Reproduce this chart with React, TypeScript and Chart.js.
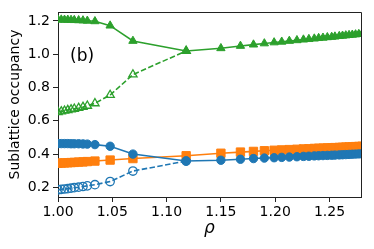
import React, { useEffect, useRef } from "react";
import { Chart, registerables } from "chart.js";

Chart.register(...registerables);

// densities (rho)
const rhoLow = [1.0, 1.003, 1.006, 1.009, 1.012, 1.015, 1.019, 1.023, 1.027, 1.034, 1.048, 1.069, 1.118];
const rhoHigh = [1.15, 1.168, 1.18, 1.19, 1.199, 1.206, 1.213, 1.22, 1.226, 1.231, 1.236, 1.24, 1.244, 1.248, 1.252, 1.255, 1.259, 1.262, 1.265, 1.268, 1.271, 1.274, 1.277, 1.28];

// green, filled triangles (solid)
const greenSolidLow = [1.208, 1.208, 1.207, 1.207, 1.206, 1.205, 1.204, 1.203, 1.201, 1.198, 1.172, 1.08, 1.02];
const greenSolidHigh = [1.036, 1.05, 1.058, 1.065, 1.071, 1.075, 1.08, 1.084, 1.088, 1.091, 1.094, 1.097, 1.099, 1.102, 1.104, 1.106, 1.109, 1.111, 1.113, 1.115, 1.117, 1.119, 1.121, 1.123];
// green, open triangles (dashed)
const greenDashed = [0.652, 0.656, 0.66, 0.664, 0.668, 0.672, 0.677, 0.683, 0.69, 0.705, 0.755, 0.878, 1.02];

// blue, filled circles (solid)
const blueSolidLow = [0.463, 0.463, 0.463, 0.463, 0.462, 0.462, 0.462, 0.461, 0.46, 0.457, 0.447, 0.4, 0.358];
const blueSolidHigh = [0.363, 0.369, 0.373, 0.376, 0.378, 0.38, 0.382, 0.384, 0.386, 0.387, 0.389, 0.39, 0.391, 0.392, 0.393, 0.394, 0.395, 0.396, 0.397, 0.398, 0.399, 0.4, 0.401, 0.402];
// blue, open circles (dashed)
const blueDashed = [0.185, 0.188, 0.19, 0.192, 0.195, 0.198, 0.201, 0.205, 0.209, 0.216, 0.235, 0.298, 0.358];

// orange squares (solid)
const orangeLow = [0.345, 0.346, 0.347, 0.348, 0.349, 0.35, 0.352, 0.353, 0.355, 0.358, 0.364, 0.373, 0.39];
const orangeHigh = [0.405, 0.412, 0.416, 0.42, 0.423, 0.425, 0.427, 0.429, 0.431, 0.432, 0.434, 0.435, 0.436, 0.437, 0.438, 0.439, 0.44, 0.441, 0.442, 0.443, 0.444, 0.445, 0.446, 0.447];

const xTicks = [1.0, 1.05, 1.1, 1.15, 1.2, 1.25];
const yTicks = [0.2, 0.4, 0.6, 0.8, 1.0, 1.2];

const GREEN = "#2ca02c";
const BLUE = "#1f77b4";
const ORANGE = "#ff7f0e";
const FONT = "'DejaVu Sans', sans-serif";

const pts = (xs: number[], ys: number[]) => xs.map((x, i) => ({ x, y: ys[i] }));

export default function App() {
  const ref = useRef<HTMLCanvasElement | null>(null);

  useEffect(() => {
    if (!ref.current) return;
    const rhoAll = [...rhoLow, ...rhoHigh];
    const framePlugin = {
      id: "frame",
      afterDraw(chart: any) {
        const { ctx, chartArea } = chart;
        const { left, top, right, bottom } = chartArea;
        ctx.save();
        ctx.strokeStyle = "#222";
        ctx.lineWidth = 1;
        ctx.beginPath();
        const t = Math.round(top) + 0.5;
        const r = Math.round(right) + 0.5;
        ctx.moveTo(Math.round(left), t);
        ctx.lineTo(r, t);
        ctx.lineTo(r, Math.round(bottom) + 1);
        ctx.stroke();
        ctx.fillStyle = "#000";
        ctx.font = `17px ${FONT}`;
        ctx.textBaseline = "middle";
        ctx.textAlign = "left";
        ctx.fillText("(b)", left + 0.04 * (right - left), top + 0.24 * (bottom - top));
        ctx.restore();
      },
    };

    const line = (
      data: { x: number; y: number }[],
      color: string,
      style: string,
      filled: boolean,
      radius: number,
      dashed: boolean
    ) => ({
      data,
      borderColor: color,
      backgroundColor: color,
      borderWidth: 1.6,
      borderDash: dashed ? [5.5, 2.4] : [],
      pointStyle: style,
      pointRadius: radius,
      pointBackgroundColor: filled ? color : "rgba(0,0,0,0)",
      pointBorderColor: color,
      pointBorderWidth: filled ? 1 : 1.3,
      tension: 0,
    });

    const chart = new Chart(ref.current, {
      type: "line",
      data: {
        datasets: [
          line(pts(rhoAll, [...blueSolidLow, ...blueSolidHigh]), BLUE, "circle", true, 4.2, false),
          line(pts(rhoLow, blueDashed), BLUE, "circle", false, 4.2, true),
          line(pts(rhoAll, [...orangeLow, ...orangeHigh]), ORANGE, "rect", true, 5.9, false),
          line(pts(rhoAll, [...greenSolidLow, ...greenSolidHigh]), GREEN, "triangle", true, 4.8, false),
          line(pts(rhoLow, greenDashed), GREEN, "triangle", false, 4.8, true),
        ] as any,
      },
      options: {
        animation: false,
        responsive: false,
        maintainAspectRatio: false,
        layout: { padding: { left: 0, top: 12, right: 13, bottom: 0 } },
        plugins: { legend: { display: false }, tooltip: { enabled: false } },
        scales: {
          x: {
            type: "linear",
            min: 1.0,
            max: 1.279,
            afterBuildTicks: (s: any) => {
              s.ticks = xTicks.map((v) => ({ value: v }));
            },
            afterFit: (s: any) => {
              s.height = 52;
            },
            grid: { drawOnChartArea: false, drawTicks: true, tickLength: 5, color: "#222", tickWidth: 1 },
            border: { display: true, color: "#222", width: 1 },
            ticks: {
              color: "#000",
              font: { family: FONT, size: 14 },
              padding: 2,
              maxRotation: 0,
              autoSkip: false,
              callback: (v: any) => Number(v).toFixed(2),
            },
            title: {
              display: true,
              text: "ρ",
              color: "#000",
              font: { family: FONT, size: 17, style: "italic" },
              padding: { top: 0, bottom: 10 },
            },
          },
          y: {
            type: "linear",
            min: 0.142,
            max: 1.254,
            afterBuildTicks: (s: any) => {
              s.ticks = yTicks.map((v) => ({ value: v }));
            },
            afterFit: (s: any) => {
              s.width = 58;
            },
            grid: { drawOnChartArea: false, drawTicks: true, tickLength: 5, color: "#222", tickWidth: 1 },
            border: { display: true, color: "#222", width: 1 },
            ticks: {
              color: "#000",
              font: { family: FONT, size: 14 },
              padding: 3,
              autoSkip: false,
              callback: (v: any) => Number(v).toFixed(1),
            },
            title: {
              display: true,
              text: "Sublattice occupancy",
              color: "#000",
              font: { family: FONT, size: 14 },
              padding: { top: 7, bottom: 0 },
            },
          },
        },
      } as any,
      plugins: [framePlugin],
    });
    return () => chart.destroy();
  }, []);

  return (
    <div style={{ position: "absolute", left: 0, top: 0, width: 374, height: 249, background: "#fff" }}>
      <canvas ref={ref} width={374} height={249} style={{ display: "block" }} />
    </div>
  );
}
